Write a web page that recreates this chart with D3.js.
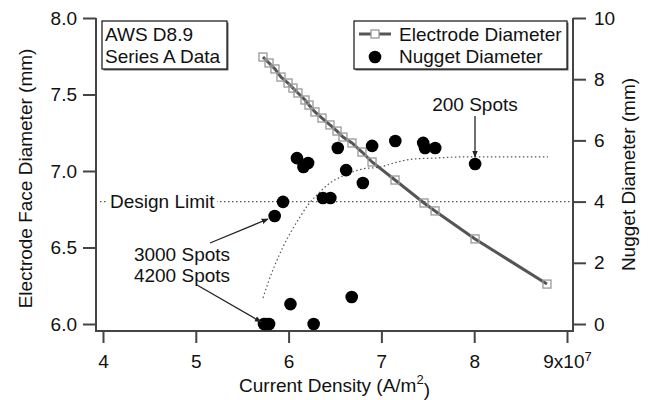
<!DOCTYPE html>
<html>
<head>
<meta charset="utf-8">
<script src="https://cdn.jsdelivr.net/npm/d3@7/dist/d3.min.js"></script>
<style>
  body { margin: 0; background: #fff; }
  text { font-family: "Liberation Sans", Arial, sans-serif; fill: #111; }
</style>
</head>
<body>
<div id="chart"></div>
<script>
// 电极直径 (current density x1e7, face diameter mm)
const electrodeX = [5.724, 5.789, 5.853, 5.918, 5.994, 6.047, 6.101, 6.177, 6.220, 6.284, 6.360,
	6.446, 6.522, 6.586, 6.683, 6.791, 6.899, 7.147, 7.459, 7.578, 8.009, 8.784];
const electrodeD = [7.745, 7.706, 7.667, 7.614, 7.575, 7.542, 7.510, 7.464, 7.431, 7.386, 7.346,
	7.301, 7.261, 7.222, 7.183, 7.124, 7.059, 6.941, 6.791, 6.739, 6.556, 6.261];

// 熔核直径 (right axis)
const nuggetX = [5.735, 5.76, 5.79, 6.27, 6.02, 6.68, 5.85, 5.94, 6.37, 6.45, 6.80, 6.62,
	6.09, 6.16, 6.21, 6.53, 6.90, 7.15, 7.45, 7.47, 7.58, 8.01];
const nuggetD = [0, 0, 0, 0, 0.65, 0.88, 3.53, 3.99, 4.12, 4.12, 4.61, 5.03,
	5.42, 5.13, 5.26, 5.75, 5.82, 5.98, 5.92, 5.75, 5.75, 5.23];

// dotted trend curve
const fitX = [5.724, 5.778, 5.853, 5.940, 6.037, 6.123, 6.209, 6.306, 6.446, 6.586, 6.802,
	6.985, 7.168, 7.341, 7.556, 7.879, 8.795];
const fitD = [0.85, 1.34, 1.93, 2.52, 3.07, 3.50, 3.89, 4.22, 4.61, 4.84, 5.07,
	5.13, 5.29, 5.39, 5.42, 5.46, 5.46];

const xTicks = [4, 5, 6, 7, 8, 9];
const leftTicks = [6.0, 6.5, 7.0, 7.5, 8.0];
const rightTicks = [0, 2, 4, 6, 8, 10];
const designLimit = 6.8;

const width = 649;
const height = 400;
const plot = ({ left: 96, right: 573, top: 18, bottom: 331 });

const x = d3.scaleLinear().domain([4, 9]).range([103, 567]);
const yL = d3.scaleLinear().domain([6, 8]).range([324, 18]);
const yR = d3.scaleLinear().domain([0, 10]).range([324, 18]);

const svg = d3.select('#chart')
	.append('svg')
	.attr('width', width)
	.attr('height', height)
	.style('font-size', '19px');

const defs = svg.append('defs');
defs.append('marker')
	.attr('id', 'arrow')
	.attr('viewBox', '0 0 10 10')
	.attr('refX', 9).attr('refY', 5)
	.attr('markerWidth', 7).attr('markerHeight', 7)
	.attr('markerUnits', 'userSpaceOnUse')
	.attr('orient', 'auto')
	.append('path')
	.attr('d', 'M0,1 L10,5 L0,9 Z')
	.attr('fill', '#222');

// 坐标轴
const axisColor = '#444';

svg.append('g')
	.attr('transform', `translate(${plot.left},0)`)
	.call(d3.axisLeft(yL).tickValues(leftTicks).tickFormat(d3.format('.1f')).tickSize(13).tickPadding(6))
	.call(g => g.select('.domain').remove());

svg.append('g')
	.attr('transform', `translate(${plot.right},0)`)
	.call(d3.axisRight(yR).tickValues(rightTicks).tickSize(13).tickPadding(8))
	.call(g => g.select('.domain').remove());

const xAxis = svg.append('g')
	.attr('transform', `translate(0,${plot.bottom})`)
	.call(d3.axisBottom(x).tickValues(xTicks).tickFormat(d => d === 9 ? '' : d).tickSize(12).tickPadding(12))
	.call(g => g.select('.domain').remove());

xAxis.selectAll('.tick')
	.filter(d => d === 9)
	.select('text')
	.call(t => {
		t.append('tspan').text('9x10');
		t.append('tspan').attr('dy', '-0.55em').style('font-size', '13px').text('7');
	});

svg.selectAll('.tick line').attr('stroke', axisColor).attr('stroke-width', 2);
svg.selectAll('.tick text').style('font-size', '19px').attr('fill', '#111')
	.style('font-family', '"Liberation Sans", Arial, sans-serif');

svg.append('path')
	.attr('d', `M${plot.left},${plot.top}V${plot.bottom}H${plot.right}V${plot.top}`)
	.attr('fill', 'none')
	.attr('stroke', axisColor)
	.attr('stroke-width', 2);

// 轴标题
svg.append('text')
	.attr('transform', `translate(25,${(plot.top + plot.bottom) / 2 + 4}) rotate(-90)`)
	.attr('text-anchor', 'middle')
	.attr('dy', '0.35em')
	.text('Electrode Face Diameter (mm)');

svg.append('text')
	.attr('transform', `translate(628,${(plot.top + plot.bottom) / 2}) rotate(-90)`)
	.attr('text-anchor', 'middle')
	.attr('dy', '0.35em')
	.text('Nugget Diameter (mm)');

const xTitle = svg.append('text')
	.attr('x', (plot.left + plot.right) / 2)
	.attr('y', 392)
	.attr('text-anchor', 'middle');
xTitle.append('tspan').text('Current Density (A/m');
xTitle.append('tspan').attr('dy', '-0.6em').style('font-size', '13px').text('2');
xTitle.append('tspan').attr('dy', '0.6em').text(')');

// design limit
svg.append('line')
	.attr('x1', 100).attr('x2', 570)
	.attr('y1', yL(designLimit)).attr('y2', yL(designLimit))
	.attr('stroke', '#555')
	.attr('stroke-width', 1.2)
	.attr('stroke-dasharray', '1.5,2.5');

svg.append('rect')
	.attr('x', 108).attr('y', yL(designLimit) - 10)
	.attr('width', 109).attr('height', 20)
	.attr('fill', '#fff');

svg.append('text')
	.attr('x', 110)
	.attr('y', yL(designLimit))
	.attr('dy', '0.35em')
	.text('Design Limit');

// trend
svg.append('path')
	.datum(fitX.map((d, i) => [d, fitD[i]]))
	.attr('d', d3.line().curve(d3.curveMonotoneX).x(d => x(d[0])).y(d => yR(d[1])))
	.attr('fill', 'none')
	.attr('stroke', '#555')
	.attr('stroke-width', 1.2)
	.attr('stroke-dasharray', '1.5,2.5');

// electrode diameter line + squares
const electrode = electrodeX.map((d, i) => [d, electrodeD[i]]);

svg.append('path')
	.datum(electrode)
	.attr('d', d3.line().x(d => x(d[0])).y(d => yL(d[1])))
	.attr('fill', 'none')
	.attr('stroke', '#555')
	.attr('stroke-width', 3);

svg.append('g')
	.selectAll('rect')
	.data(electrode)
	.join('rect')
	.attr('x', d => x(d[0]) - 4)
	.attr('y', d => yL(d[1]) - 4)
	.attr('width', 8)
	.attr('height', 8)
	.attr('fill', 'none')
	.attr('stroke', '#999')
	.attr('stroke-width', 1.3);

// nugget dots
svg.append('g')
	.selectAll('circle')
	.data(nuggetX.map((d, i) => [d, nuggetD[i]]))
	.join('circle')
	.attr('cx', d => x(d[0]))
	.attr('cy', d => yR(d[1]))
	.attr('r', 6.3)
	.attr('fill', '#000');

// annotations
function note(lines, cx, y0, lh) {
	lines.forEach((t, i) => {
		svg.append('text')
			.attr('x', cx).attr('y', y0 + i * lh)
			.attr('text-anchor', 'middle')
			.text(t);
	});
}

note(['200 Spots'], 475, 111, 0);
svg.append('line')
	.attr('x1', 475).attr('y1', 116).attr('x2', 475).attr('y2', 157)
	.attr('stroke', '#222').attr('stroke-width', 1.3)
	.attr('marker-end', 'url(#arrow)');

note(['3000 Spots', '4200 Spots'], 182, 261, 21);
svg.append('line')
	.attr('x1', 210).attr('y1', 243).attr('x2', 268).attr('y2', 219)
	.attr('stroke', '#222').attr('stroke-width', 1.3)
	.attr('marker-end', 'url(#arrow)');
svg.append('line')
	.attr('x1', 197).attr('y1', 285).attr('x2', 261).attr('y2', 322)
	.attr('stroke', '#222').attr('stroke-width', 1.3)
	.attr('marker-end', 'url(#arrow)');

// boxes
function box(x0, y0, w, h) {
	svg.append('rect')
		.attr('x', x0 + 1.5).attr('y', y0 + 1.5)
		.attr('width', w).attr('height', h)
		.attr('fill', '#666');
	svg.append('rect')
		.attr('x', x0).attr('y', y0)
		.attr('width', w).attr('height', h)
		.attr('fill', '#fff')
		.attr('stroke', '#111')
		.attr('stroke-width', 1.2);
}

box(102, 21, 125, 48);
svg.append('text').attr('x', 105).attr('y', 41).text('AWS D8.9');
svg.append('text').attr('x', 105).attr('y', 63).text('Series A Data');

box(354, 21, 213, 48);
svg.append('line')
	.attr('x1', 359).attr('x2', 391).attr('y1', 34).attr('y2', 34)
	.attr('stroke', '#555').attr('stroke-width', 3);
svg.append('rect')
	.attr('x', 371).attr('y', 30).attr('width', 8).attr('height', 8)
	.attr('fill', '#fff').attr('stroke', '#999').attr('stroke-width', 1.3);
svg.append('circle').attr('cx', 375).attr('cy', 57).attr('r', 6.3).attr('fill', '#000');
svg.append('text').attr('x', 399).attr('y', 41).text('Electrode Diameter');
svg.append('text').attr('x', 399).attr('y', 63).text('Nugget Diameter');
</script>
</body>
</html>
